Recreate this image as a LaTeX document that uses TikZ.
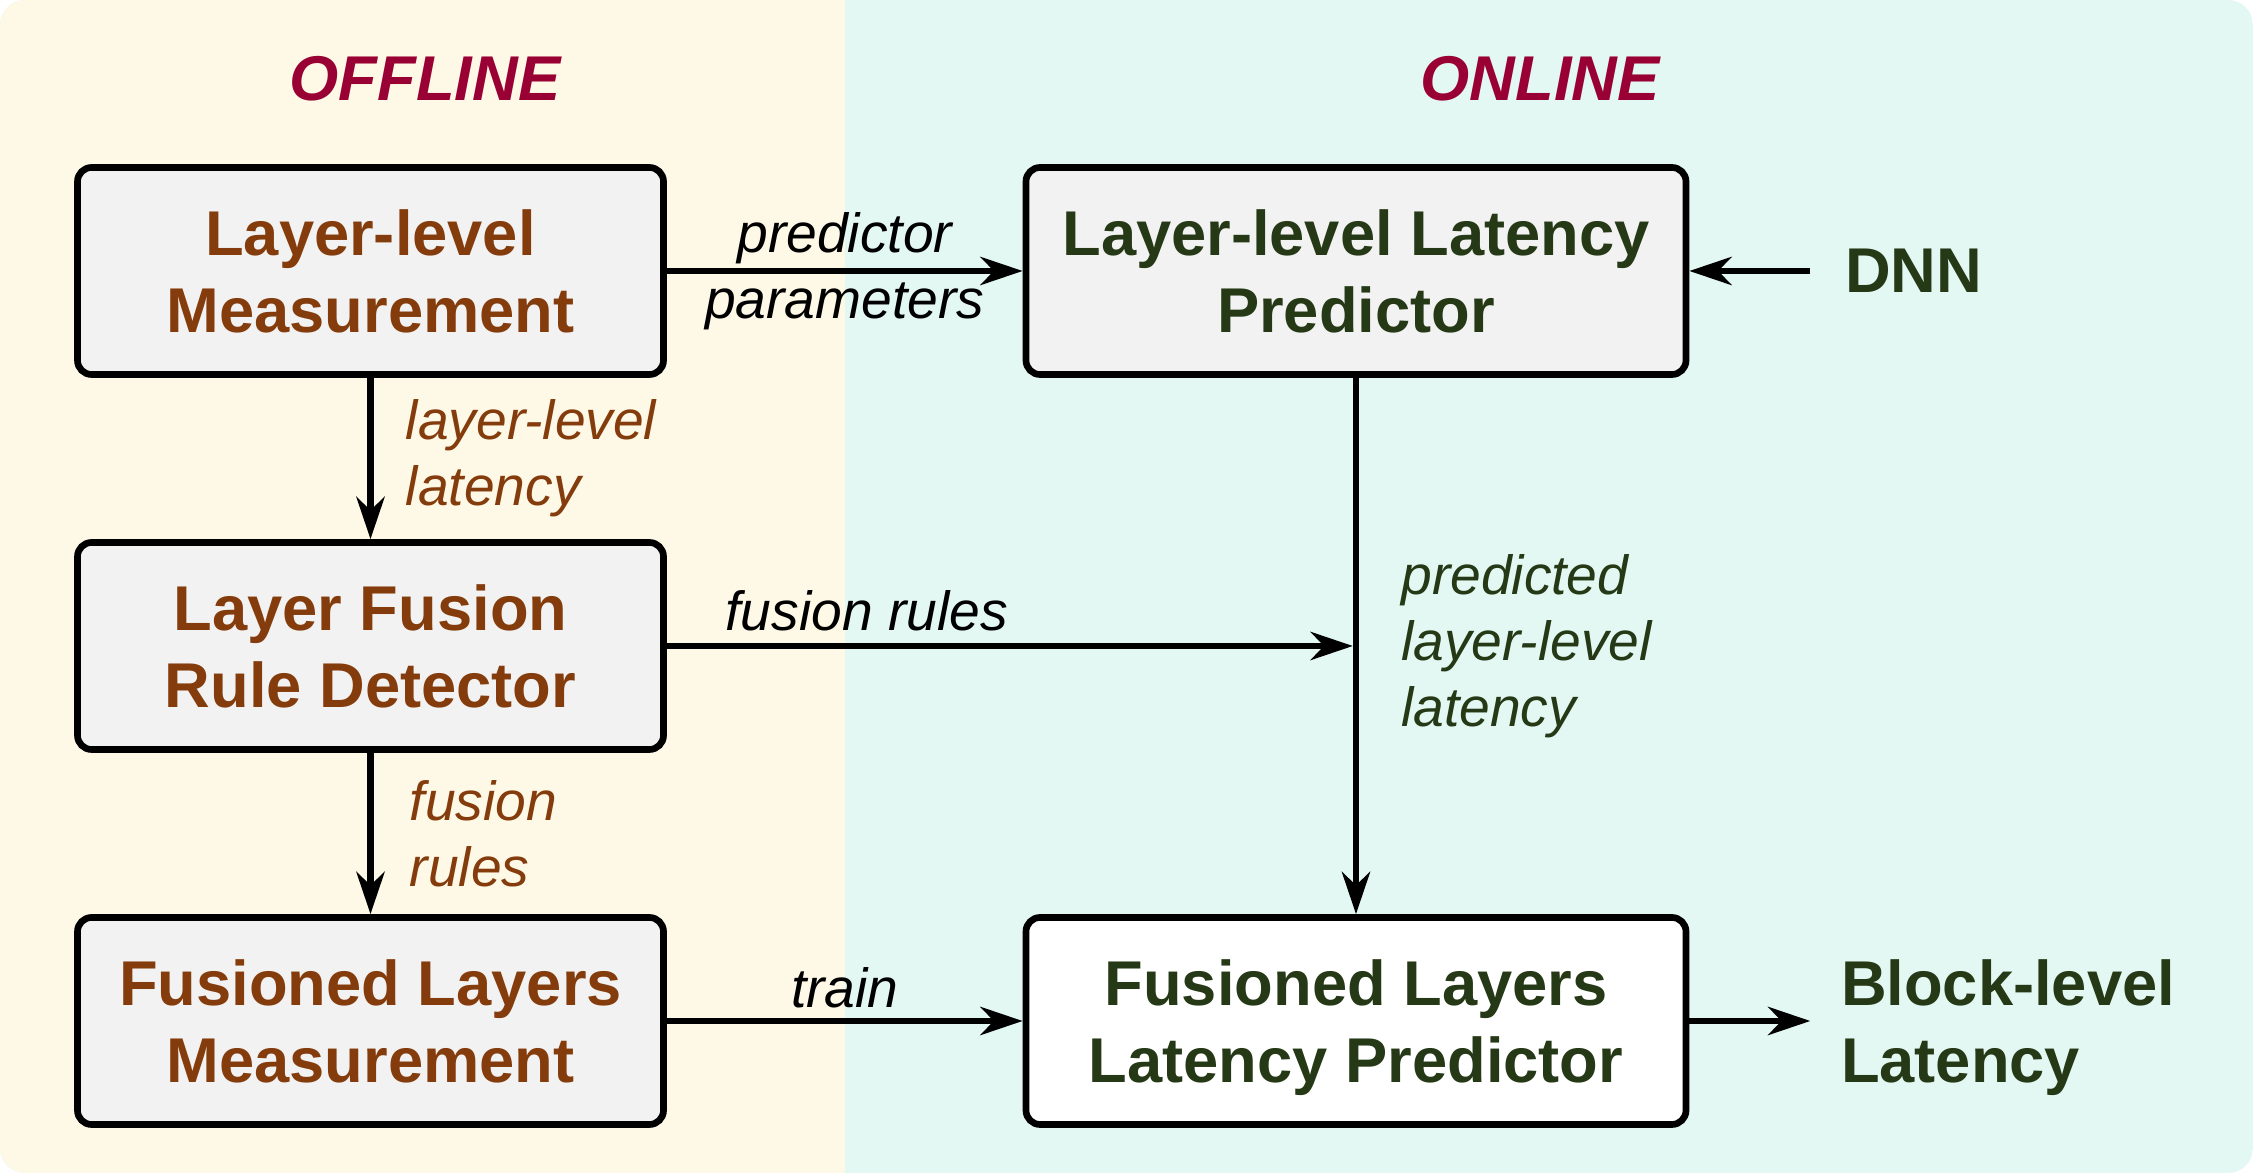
\documentclass[tikz,border=0pt]{standalone}
\usepackage{fontspec}
\setmainfont{Liberation Sans}
\usetikzlibrary{arrows.meta,positioning,calc}

\definecolor{offbg}{HTML}{FEF8E6}
\definecolor{onbg}{HTML}{E3F8F3}
\definecolor{boxgray}{HTML}{F2F2F2}
\definecolor{brownish}{HTML}{843C0C}
\definecolor{darkgreen}{HTML}{263916}
\definecolor{crimson}{HTML}{990033}

\begin{document}
\begin{tikzpicture}[
    box/.style={rectangle, rounded corners=4pt, draw, line width=1.9pt, fill=boxgray, minimum height=2.07cm, minimum width=5.86cm, text depth=0pt, align=center, font=\fontsize{18}{21.8}\selectfont\bfseries},
    lbl/.style={inner sep=0pt, align=left, font=\fontsize{15.7}{18.8}\selectfont\itshape},
    head/.style={font=\fontsize{18}{22}\selectfont\bfseries\itshape, text=crimson},
    outtext/.style={inner sep=0pt, text depth=0pt, align=left, text=darkgreen, font=\fontsize{18}{21.8}\selectfont\bfseries},
    flow/.style={->, line width=1.9pt},
    >={Stealth[length=12pt,width=8pt,inset=3.8pt]}
  ]
    \useasboundingbox (0,0) rectangle (22.53,-11.73);
    \begin{scope}
      \clip[rounded corners=0.25cm] (0,0) rectangle (22.53,-11.73);
      \fill[onbg] (0,0) rectangle (22.53,-11.73);
      \fill[offbg] (0,0) rectangle (8.45,-11.73);
    \end{scope}

    \node(off) [head] at (4.25,-0.79) {OFFLINE};
    \node(on) [head] at (15.40,-0.79) {ONLINE};

    \node(lm) [box, text=brownish] at (3.705,-2.71) {Layer-level\\Measurement};
    \node(lfd) [box, text=brownish] at (3.705,-6.46) {Layer Fusion\\Rule Detector};
    \node(flm) [box, text=brownish] at (3.705,-10.21) {Fusioned Layers\\Measurement};
    \node(llp) [box, text=darkgreen, minimum width=6.60cm] at (13.56,-2.71) {Layer-level Latency\\Predictor};
    \node(flp) [box, fill=white, text=darkgreen, minimum width=6.60cm] at (13.56,-10.21) {Fusioned Layers\\Latency Predictor};

    \node(dnn) [outtext, right=1.55cm of llp] {DNN};
    \node(bl) [outtext, right=1.51cm of flp] {Block-level\\Latency};

    \draw[flow] (lm) -- node[lbl, align=center, midway] {predictor\\parameters} (llp);
    \draw[flow] (lm) -- node[lbl, right=0.32cm, text=brownish] {layer-level\\latency} (lfd);
    \draw[flow] (lfd) -- node[lbl, right=0.36cm, text=brownish] {fusion\\rules} (flm);
    \draw[flow, shorten >=0.9pt] (lfd.east) -- node[lbl, pos=0.29, above=3.4pt] {fusion rules} (lfd.east -| llp.south);
    \draw[flow] (llp) -- node[lbl, right=0.42cm, text=darkgreen] {predicted\\layer-level\\latency} (flp);
    \draw[flow] (flm) -- node[lbl, above=2.6pt] {train} (flp);
    \draw[flow] ([xshift=-0.34cm]dnn.west) -- (llp);
    \draw[flow] (flp) -- ([xshift=-0.30cm]bl.west);
  \end{tikzpicture}
\end{document}
